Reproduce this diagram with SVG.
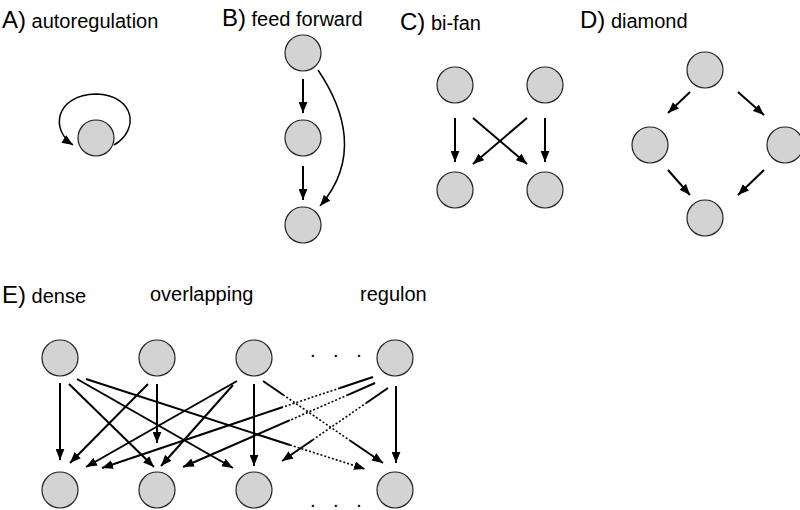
<svg xmlns="http://www.w3.org/2000/svg" width="800" height="510" viewBox="0 0 800 510">
<defs>
<marker id="ah" viewBox="0 0 10 8" refX="10" refY="4" markerWidth="11" markerHeight="9" markerUnits="userSpaceOnUse" orient="auto"><path d="M0,0 L10,4 L0,8 z" fill="#000"/></marker>
<style>
.n{fill:#d3d3d3;stroke:#222;stroke-width:1.2}
.e{stroke:#000;stroke-width:2;fill:none}
.a{marker-end:url(#ah)}
.d{stroke:#000;stroke-width:1.6;stroke-dasharray:2 2;fill:none}
.t{font-family:"Liberation Sans",Arial,sans-serif;font-size:20px;fill:#000}
.L{font-size:24px}
</style>
</defs>
<rect width="800" height="510" fill="#fff"/>
<g id="labels" class="t">
<text x="2" y="28"><tspan class="L">A)</tspan> autoregulation</text>
<text x="222" y="26"><tspan class="L">B)</tspan>  feed forward</text>
<text x="400" y="30"><tspan class="L">C)</tspan> bi-fan</text>
<text x="580" y="28"><tspan class="L">D)</tspan> diamond</text>
<text x="2" y="303"><tspan class="L">E)</tspan> dense</text>
<text x="150" y="301">overlapping</text>
<text x="360" y="301">regulon</text>
<text x="310" y="357" letter-spacing="6" fill="#000">. . .</text>
<text x="310" y="507" letter-spacing="6" fill="#000">. . .</text>
</g>
<g id="connectors">
<path class="e" style="stroke-width:1.5" d="M114,145 C140,130 135,95 96,94 C55,95 50,130 73,145" marker-end="url(#ah)"/>
<path class="e a" d="M303,79 L303,113"/>
<path class="e a" d="M303,166 L303,200"/>
<path class="e" style="stroke-width:1.5" marker-end="url(#ah)" d="M318,70 C345,110 360,160 320,206"/>
<path class="e a" d="M455,118 L455,162"/>
<path class="e a" d="M545,118 L545,162"/>
<path class="e a" d="M473,118 L527,164"/>
<path class="e a" d="M527,118 L473,164"/>
<path class="e a" d="M690,92 L668,113"/>
<path class="e a" d="M738,92 L764,115"/>
<path class="e a" d="M668,170 L690,195"/>
<path class="e a" d="M764,170 L738,195"/>
<path class="e a" d="M60,383 L60,460"/>
<path class="e a" d="M69,384 L154,467"/>
<path class="e a" d="M77,379 L233,468"/>
<path class="e" d="M86,379 L290,445"/>
<path class="d a" d="M290,445 L365,469"/>
<path class="e a" d="M148,384 L70,463"/>
<path class="e a" d="M157,384 L157,443"/>
<path class="e a" d="M237,381 L86,467"/>
<path class="e a" d="M233,385 L161,466"/>
<path class="e a" d="M254,384 L254,466"/>
<path class="e" d="M263,381 L283,394.7"/>
<path class="d" d="M283,394.7 L350,440.5"/>
<path class="e a" d="M350,440.5 L383,463"/>
<path class="e" d="M373,377 L340,388"/>
<path class="d" d="M340,388 L283,407"/>
<path class="e a" d="M283,407 L102,468"/>
<path class="e" d="M375,383 L348,394.8"/>
<path class="d" d="M348,394.8 L290,420.2"/>
<path class="e a" d="M290,420.2 L183,467"/>
<path class="e" d="M388,388 L367,402.5"/>
<path class="d" d="M367,402.5 L313,439.7"/>
<path class="e a" d="M313,439.7 L282,461"/>
<path class="e a" d="M396,386 L396,463"/>
</g>
<g id="nA"><circle class="n" cx="96" cy="138" r="18"/></g>
<g id="nB1"><circle class="n" cx="303" cy="53" r="18"/></g>
<g id="nB2"><circle class="n" cx="303" cy="138" r="18"/></g>
<g id="nB3"><circle class="n" cx="303" cy="225" r="18"/></g>
<g id="nC1"><circle class="n" cx="455" cy="85" r="18"/></g>
<g id="nC2"><circle class="n" cx="545" cy="85" r="18"/></g>
<g id="nC3"><circle class="n" cx="455" cy="190" r="18"/></g>
<g id="nC4"><circle class="n" cx="545" cy="190" r="18"/></g>
<g id="nD1"><circle class="n" cx="705" cy="70" r="18"/></g>
<g id="nD2"><circle class="n" cx="650" cy="145" r="18"/></g>
<g id="nD3"><circle class="n" cx="785" cy="145" r="18"/></g>
<g id="nD4"><circle class="n" cx="705" cy="218" r="18"/></g>
<g id="nE1"><circle class="n" cx="60" cy="358" r="18"/></g>
<g id="nE2"><circle class="n" cx="157" cy="358" r="18"/></g>
<g id="nE3"><circle class="n" cx="254" cy="358" r="18"/></g>
<g id="nE4"><circle class="n" cx="395" cy="358" r="18"/></g>
<g id="nE5"><circle class="n" cx="60" cy="490" r="18"/></g>
<g id="nE6"><circle class="n" cx="157" cy="490" r="18"/></g>
<g id="nE7"><circle class="n" cx="254" cy="490" r="18"/></g>
<g id="nE8"><circle class="n" cx="395" cy="490" r="18"/></g>
</svg>
